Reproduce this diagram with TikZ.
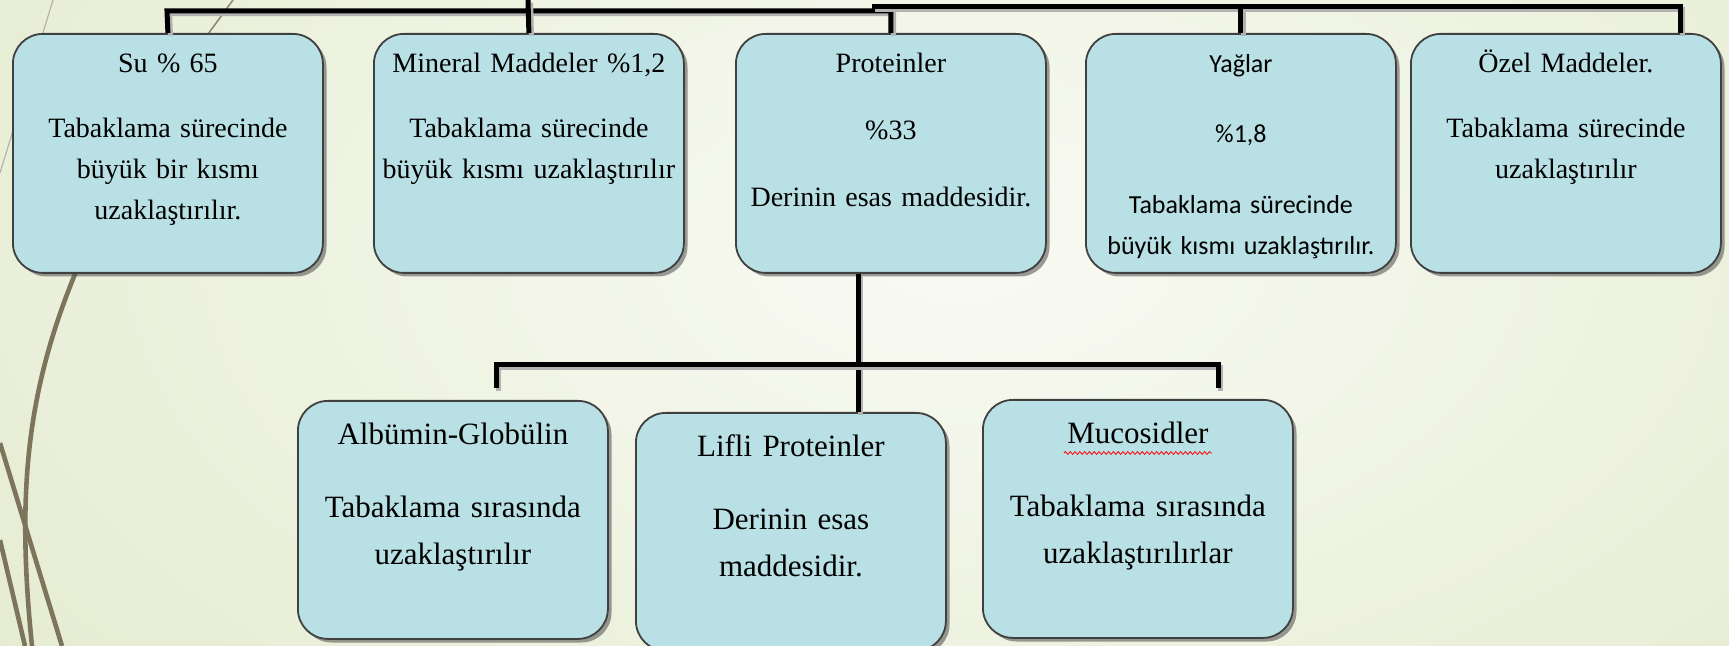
\documentclass[tikz,border=0pt]{standalone}
\usepackage{fontspec}
\setmainfont{Liberation Serif}
\newfontfamily\calibri{Carlito}
\usepackage{tikz}
\usetikzlibrary{shadows, positioning, decorations.pathmorphing}
\definecolor{kutumavi}{RGB}{185,224,228}
\definecolor{zemin}{RGB}{226,234,203}
\definecolor{zeminacik}{RGB}{249,250,244}
\definecolor{sazrengi}{RGB}{124,117,92}
\tikzstyle{kutu} = [draw=black!75, line width=0.9pt, fill=kutumavi, rounded corners=15pt,
	anchor=north west, text width=150pt, align=center, inner xsep=2.5pt, inner ysep=0pt,
	text height=19.5pt, text depth=100pt, font=\fontsize{14}{20.5}\selectfont,
	drop shadow={shadow xshift=1.8pt, shadow yshift=-1.8pt, opacity=0.55, fill=black!70}]
\tikzstyle{altkutu} = [kutu, text height=22pt, text depth=97pt, font=\fontsize{15.5}{23.5}\selectfont]
\tikzstyle{line} = [draw, line width=2.5pt,
	preaction={draw=black!30, line width=2.5pt, transform canvas={shift={(1.3pt,-1.3pt)}}}]
\tikzstyle{saz} = [draw=sazrengi, line width=2.3pt]

\begin{document}
\begin{tikzpicture}[x=0.5pt, y=-0.5pt]
	\useasboundingbox (0,0) rectangle (1729,646);
	\clip (0,0) rectangle (1729,646);
	% zemin
	\fill[zemin] (0,0) rectangle (1729,646);
	\shade[inner color=zeminacik, outer color=zemin] (-440,-550) rectangle (2360,1050);
	\draw[sazrengi!55, line width=0.6pt] (53,0) -- (0,173);
	\draw[sazrengi!85, line width=0.8pt] (233,0) -- (200,45);
	\path[saz] (80,262) .. controls (30,380) and (15,480) .. (32,646);
	\path[saz] (0,443) -- (62,646);
	\path[saz] (0,540) -- (25,646);

	% ust sira
	\node [kutu] (su) at (12,33) {Su \% 65\\[12pt] Tabaklama sürecinde\\ büyük bir kısmı\\ uzaklaştırılır.};
	\node [kutu] (mineral) at (373,33) {Mineral Maddeler \%1,2\\[12pt] Tabaklama sürecinde\\ büyük kısmı uzaklaştırılır};
	\node [kutu] (protein) at (735,33) {Proteinler\\[13pt] \%33\\[13pt] Derinin esas maddesidir.};
	\node [kutu, font=\calibri\fontsize{13}{20.5}\selectfont] (yag) at (1085,33) {Yağlar\\[14.5pt] \%1,8\\[15pt] Tabaklama sürecinde\\ büyük kısmı uzaklaştırılır.};
	\node [kutu] (ozel) at (1410,33) {Özel Maddeler.\\[12pt] Tabaklama sürecinde\\ uzaklaştırılır};

	% alt sira
	\node [altkutu] (albumin) at (297,400) {Albümin-Globülin\\[13pt] Tabaklama sırasında\\ uzaklaştırılır};
	\node [altkutu] (lifli) at (635,412) {Lifli Proteinler\\[13pt] Derinin esas\\ maddesidir.};
	\node [altkutu] (mucosid) at (982,399) {Mucosidler\\[13pt] Tabaklama sırasında\\ uzaklaştırılırlar};
	\draw[red, line width=0.4pt, decorate, decoration={snake, amplitude=0.7pt, segment length=2.4pt}]
		([xshift=-37pt, yshift=-27pt]mucosid.north) -- ([xshift=37pt, yshift=-27pt]mucosid.north);

	\coordinate (kok) at (528,0);
	\coordinate (ustsol) at (167,11);
	\coordinate (ustara) at (872,7);
	\coordinate (ustsag) at (1680,7);
	\coordinate (catal) at (858,365);
	\coordinate (altsol) at (496,388);
	\coordinate (altsag) at (1218,388);

	\path [line] (su.north) -- (ustsol) -- (ustsol -| protein.north) -- (protein.north);
	\path [line] (ustara) -- (ustsag) -- (ustsag |- ozel.north);
	\path [line] (mineral.north) -- (kok);
	\path [line] (yag.north) -- (yag.north |- ustsag);
	\path [line] (catal |- protein.south) -- (catal |- lifli.north);
	\path [line] (altsol) |- (catal) -| (altsag);
\end{tikzpicture}
\end{document}
